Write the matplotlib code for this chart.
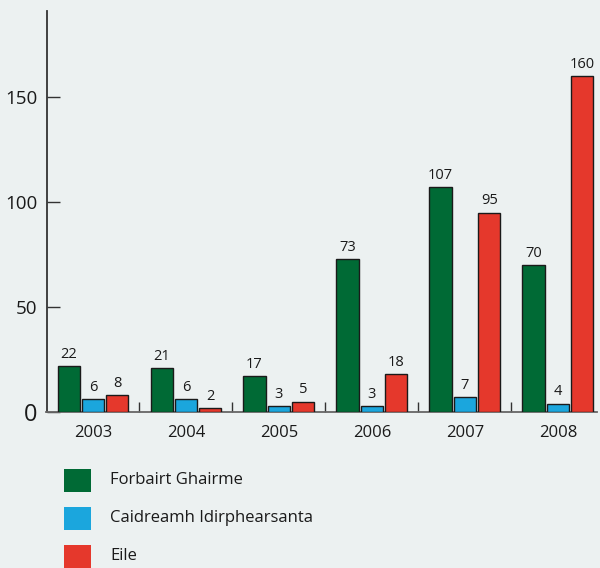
import numpy as np
import matplotlib.pyplot as plt
from matplotlib.patches import Rectangle

# data
years = ['2003', '2004', '2005', '2006', '2007', '2008']
forbairt = [22, 21, 17, 73, 107, 70]
caidreamh = [6, 6, 3, 3, 7, 4]
eile = [8, 2, 5, 18, 95, 160]
series_names = ['Forbairt Ghairme', 'Caidreamh Idirphearsanta', 'Eile']
colors = ['#006a35', '#1ba6dd', '#e5382c']

bg = '#ecf1f1'
plt.rcParams['font.family'] = ['Open Sans', 'DejaVu Sans']

fig = plt.figure(figsize=(6.0, 5.68), dpi=100, facecolor=bg)
ax = fig.add_axes([0.0775, 0.2746, 0.9175, 0.706])
ax.set_facecolor(bg)

x = np.arange(len(years))
width = 0.237
offset = 0.263

for i, vals in enumerate([forbairt, caidreamh, eile]):
    pos = x + (i - 1) * offset
    ax.bar(pos, vals, width, color=colors[i], edgecolor='#1a1a1a', linewidth=1.0, zorder=3)
    for xp, v in zip(pos, vals):
        ax.text(xp, v + 2, str(v), ha='center', va='bottom', fontsize=10.5, color='#1a1a1a')

ax.set_xlim(-0.5, 5.42)
ax.set_ylim(0, 191)

for s in ['top', 'right']:
    ax.spines[s].set_visible(False)
ax.spines['left'].set_color('#333333')
ax.spines['left'].set_linewidth(1.3)
ax.spines['bottom'].set_color('#666666')
ax.spines['bottom'].set_linewidth(1.3)

ax.set_yticks([0, 50, 100, 150])
ax.tick_params(axis='y', direction='in', length=9.5, width=1, color='#333333',
               labelsize=13.5, pad=6.5, labelcolor='#1a1a1a')
ax.get_yticklabels()[0].set_fontsize(17)

ax.set_xticks(x)
ax.set_xticklabels(years)
ax.tick_params(axis='x', which='major', length=0, labelsize=12, pad=9, labelcolor='#1a1a1a')
ax.set_xticks(x[:-1] + 0.5, minor=True)
ax.tick_params(axis='x', which='minor', direction='in', length=7, width=1, color='#333333')

# legend drawn by hand below the chart
for i, (name, c) in enumerate(zip(series_names, colors)):
    yc = 568 - (480.5 + i * 38)
    fig.patches.append(Rectangle((64 / 600, (yc - 11.5) / 568), 27 / 600, 23 / 568,
                                 transform=fig.transFigure, facecolor=c, edgecolor='none'))
    fig.text(110 / 600, yc / 568, name, ha='left', va='center', fontsize=12, color='#1a1a1a')

fig.savefig('out.png', dpi=100, facecolor=bg)
